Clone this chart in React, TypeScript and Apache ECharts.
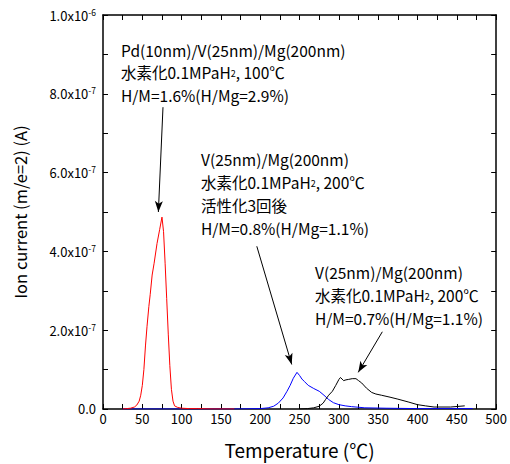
import React, { useEffect, useRef } from "react";
import * as echarts from "echarts";

// Temperature (°C) / ion current (units of 1e-7 A)
const pdT = [25, 30, 35, 40, 43, 46, 48, 50, 52, 54, 56, 58.3, 60, 62.5, 65, 68.7, 72, 75, 77, 79, 81, 83, 85, 87, 89, 91, 95, 100, 110, 120, 140, 167];
const pdI = [0.0, 0.01, 0.02, 0.05, 0.1, 0.2, 0.35, 0.6, 1.0, 1.6, 2.1, 2.6, 2.9, 3.4, 3.7, 4.2, 4.55, 4.87, 4.5, 3.7, 2.8, 1.9, 1.1, 0.5, 0.2, 0.08, 0.04, 0.02, 0.01, 0.01, 0.0, 0.0];

const v3T = [25, 100, 167, 200, 210, 217, 223, 229, 234, 238, 242, 246.7, 250, 253, 256, 261, 268, 275, 281, 287, 293, 300, 308, 316, 333, 360, 400, 470];
const v3I = [0, 0, 0, 0.01, 0.03, 0.07, 0.15, 0.28, 0.45, 0.6, 0.78, 0.93, 0.85, 0.76, 0.7, 0.6, 0.52, 0.45, 0.35, 0.24, 0.16, 0.11, 0.08, 0.06, 0.03, 0.02, 0.01, 0.01];

const vT = [250, 260, 268, 275, 280, 283, 287, 291.7, 296, 300, 302, 304, 306, 309, 312, 317, 321.7, 325, 329, 335, 341.7, 347, 354, 365, 375, 388, 400, 410, 421, 442, 460];
const vI = [0, 0.01, 0.03, 0.07, 0.15, 0.24, 0.35, 0.45, 0.6, 0.75, 0.8, 0.76, 0.72, 0.74, 0.75, 0.77, 0.77, 0.72, 0.66, 0.53, 0.42, 0.38, 0.35, 0.3, 0.25, 0.18, 0.11, 0.08, 0.05, 0.05, 0.08];

// arrows: [fromT, fromI, toT, toI]
const arrows = [
  [76.3, 7.66, 70.4, 5.0],
  [195.6, 4.13, 240, 1.13],
  [355.2, 1.96, 324.6, 0.93],
];

const note1 = ["Pd(10nm)/V(25nm)/Mg(200nm)", "{n|水素化0.1MPaH}{s|2}{n|, 100℃}", "H/M=1.6%(H/Mg=2.9%)"];
const note2 = ["V(25nm)/Mg(200nm)", "{n|水素化0.1MPaH}{s|2}{n|, 200℃}", "活性化3回後", "H/M=0.8%(H/Mg=1.1%)"];
const note3 = ["V(25nm)/Mg(200nm)", "{n|水素化0.1MPaH}{s|2}{n|, 200℃}", "H/M=0.7%(H/Mg=1.1%)"];

const FONT = "'Noto Sans CJK JP', 'Liberation Sans', sans-serif";

function zip(t: number[], v: number[]) {
  return t.map((x, i) => [x, v[i]]);
}

function noteTexts(lines: string[], x: number, y0: number, dy: number) {
  return lines.map((l, i) => ({
    type: "text",
    x,
    y: y0 + i * dy,
    style: {
      text: l.startsWith("{") ? l : `{n|${l}}`,
      fill: "#000",
      verticalAlign: "middle",
      rich: {
        n: { fontSize: 15.5, fontFamily: FONT, fill: "#000", padding: [0, 0, 3, 0] },
        s: { fontSize: 9, fontFamily: FONT, fill: "#000" },
      },
    },
  }));
}

export default function App() {
  const ref = useRef<HTMLDivElement>(null);
  useEffect(() => {
    const chart = echarts.init(ref.current!, null, { renderer: "svg" });
    const axisCommon = {
      type: "value",
      axisLine: { show: true, onZero: false, lineStyle: { color: "#000", width: 1.5 } },
      axisTick: { show: true, inside: true, length: 5, lineStyle: { color: "#000" } },
      minorTick: { show: true, splitNumber: 2, length: 5, lineStyle: { color: "#000" } },
      splitLine: { show: false },
    };
    const yFmt = (v: number) => {
      if (Math.abs(v) < 1e-9) return "{a|0.0}";
      const real = v * 1e-7;
      const exp = Math.floor(Math.log10(real) + 1e-9);
      const mant = real / Math.pow(10, exp);
      return `{a|${mant.toFixed(1)}x10}{b|${exp}}`;
    };
    const markLineData = arrows.map((a) => [
      { coord: [a[0], a[1]], symbol: "none" },
      { coord: [a[2], a[3]], symbol: "arrow", symbolSize: [6, 11] },
    ]);
    chart.setOption({
      animation: false,
      backgroundColor: "#fff",
      grid: { left: 103, right: 5, top: 15, bottom: 49 },
      xAxis: [
        {
          ...axisCommon,
          min: 0,
          max: 500,
          interval: 50,
          name: "Temperature (℃)",
          nameLocation: "middle",
          nameGap: 31,
          nameTextStyle: { fontSize: 19, fontFamily: FONT, color: "#000" },
          axisLabel: { fontSize: 13, fontFamily: FONT, color: "#000", margin: 3 },
        },
        {
          ...axisCommon,
          position: "top",
          min: 0,
          max: 500,
          interval: 50,
          axisLabel: { show: false },
        },
      ],
      yAxis: [
        {
          ...axisCommon,
          min: 0,
          max: 10,
          interval: 2,
          name: "Ion current (m/e=2) (A)",
          nameLocation: "middle",
          nameGap: 75,
          nameTextStyle: { fontSize: 16.5, fontFamily: FONT, color: "#000" },
          axisLabel: {
            margin: 7,
            formatter: yFmt,
            rich: {
              a: { fontSize: 13, fontFamily: FONT, color: "#000" },
              b: { fontSize: 8.5, fontFamily: FONT, color: "#000", padding: [0, 0, 7, 0] },
            },
          },
        },
        {
          ...axisCommon,
          position: "right",
          min: 0,
          max: 10,
          interval: 2,
          axisLabel: { show: false },
        },
      ],
      series: [
        {
          type: "line",
          data: zip(v3T, v3I),
          showSymbol: false,
          lineStyle: { color: "#0000ff", width: 1 },
          itemStyle: { color: "#0000ff" },
        },
        {
          type: "line",
          data: zip(vT, vI),
          showSymbol: false,
          lineStyle: { color: "#000", width: 1 },
          itemStyle: { color: "#000" },
        },
        {
          type: "line",
          data: zip(pdT, pdI),
          showSymbol: false,
          lineStyle: { color: "#ff0000", width: 1 },
          itemStyle: { color: "#ff0000" },
          markLine: {
            silent: true,
            label: { show: false },
            lineStyle: { color: "#000", width: 1, type: "solid" },
            itemStyle: { color: "#000" },
            data: markLineData,
          },
        },
      ],
      graphic: [
        ...noteTexts(note1, 121, 51, 22.5),
        ...noteTexts(note2, 201, 160, 23),
        ...noteTexts(note3, 315, 273, 23),
      ],
    });
    const onResize = () => chart.resize();
    window.addEventListener("resize", onResize);
    return () => {
      window.removeEventListener("resize", onResize);
      chart.dispose();
    };
  }, []);
  return (
    <div
      ref={ref}
      style={{ position: "fixed", left: 0, top: 0, width: "100vw", height: "100vh", overflow: "hidden" }}
    />
  );
}
